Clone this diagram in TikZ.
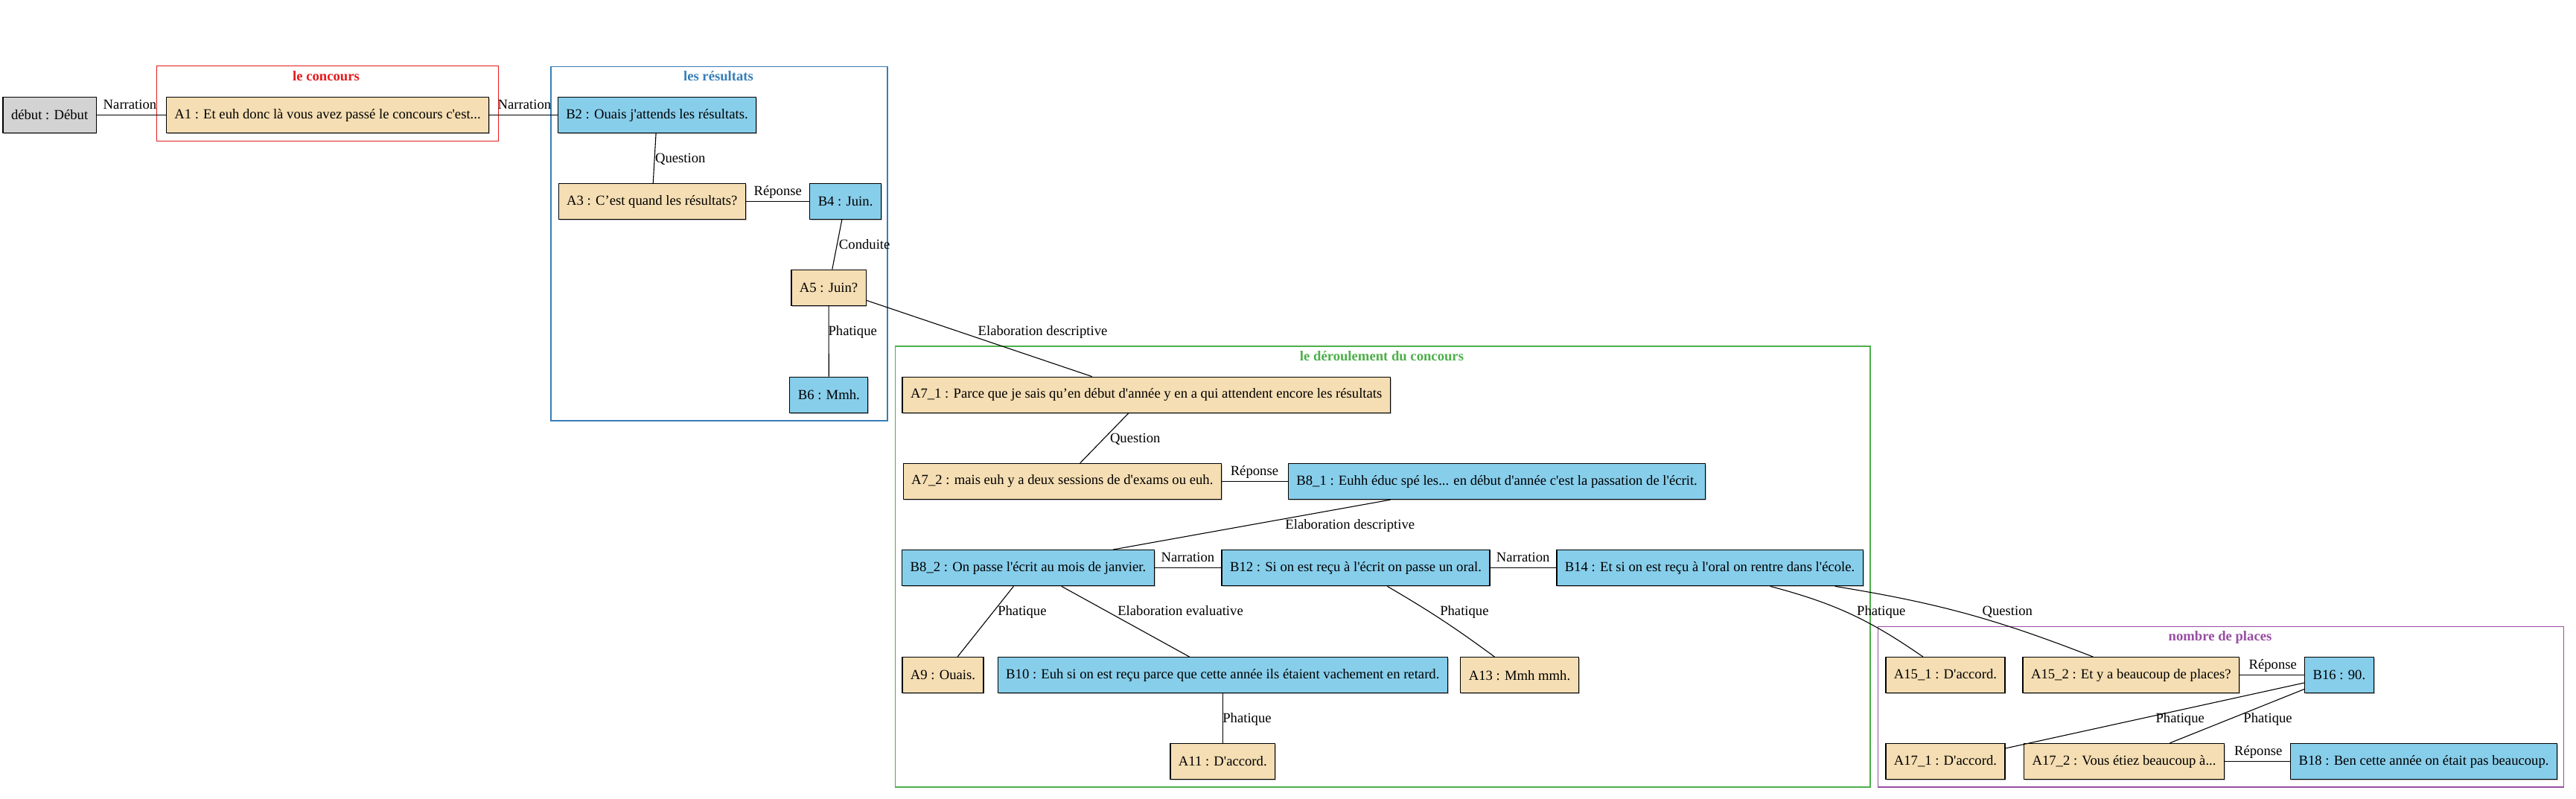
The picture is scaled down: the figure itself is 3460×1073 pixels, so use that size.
\documentclass[tikz,border=0pt]{standalone}
\usepackage{fontspec}
\setmainfont{Liberation Serif}[Ligatures=TeXOff]
\definecolor{wheat}{HTML}{F5DEB3}
\definecolor{skyblue}{HTML}{87CEEB}
\definecolor{lgray}{HTML}{D3D3D3}
\definecolor{cred}{HTML}{E41A1C}
\definecolor{cblue}{HTML}{377EB8}
\definecolor{cgreen}{HTML}{4DAF4A}
\definecolor{cpurple}{HTML}{984EA3}
\begin{document}
\begin{tikzpicture}[x=1pt,y=-1pt,font=\fontsize{18.67}{22}\selectfont]
		\tikzstyle{tour}=[draw,line width=1.3pt,shape=rectangle,minimum height=48pt,inner xsep=11pt,preaction={fill=gray,opacity=0.5,transform canvas={shift={(1.3pt,-1.3pt)}}}]
		\tikzstyle{tourA}=[tour,fill=wheat]
		\tikzstyle{tourB}=[tour,fill=skyblue]
		\tikzstyle{rel}=[anchor=base,inner sep=0pt]
		\tikzstyle{link}=[line width=1.1pt]
		\tikzstyle{grp}=[line width=1.2pt]
		\tikzstyle{grptitle}=[anchor=base,inner sep=0pt,font=\fontsize{18.67}{22}\selectfont\bfseries]

		\useasboundingbox (0,0) rectangle (3460,1073);

		\draw[grp,cred] (210.5,88.7) rectangle (669.2,189.3);
		\node[grptitle,cred](gconcours) at (438,108.5){le concours};
		\draw[grp,cblue] (740,89.3) rectangle (1192,565);
		\node[grptitle,cblue](gresultats) at (965,108){les résultats};
		\draw[grp,cgreen] (1202.6,465) rectangle (2512,1057);
		\node[grptitle,cgreen](gderoul) at (1856,484.5){le déroulement du concours};
		\draw[grp,cpurple] (2522.7,841.3) rectangle (3443.7,1057);
		\node[grptitle,cpurple](gplaces) at (2982,860){nombre de places};

		\node[tour,fill=lgray](debut) at (66.6,154.5){début : Début};
		\node[tourA](a1) at (440,154.5){A1 : Et euh donc là vous avez passé le concours c'est...};
		\node[tourB](b2) at (882.5,154.5){B2 : Ouais j'attends les résultats.};
		\node[tourA](a3) at (875.8,270.5){A3 : C’est quand les résultats?};
		\node[tourB](b4) at (1135.6,270.5){B4 : Juin.};
		\node[tourA](a5) at (1113,386.3){A5 : Juin?};
		\node[tourB](b6) at (1113.3,530.3){B6 : Mmh.};
		\node[tourA](a71) at (1539.7,530.3){A7\_1 : Parce que je sais qu’en début d'année y en a qui attendent encore les résultats};
		\node[tourA](a72) at (1426.8,646.5){A7\_2 : mais euh y a deux sessions de d'exams ou euh.};
		\node[tourB](b81) at (2010.6,646.5){B8\_1 : Euhh éduc spé les... en début d'année c'est la passation de l'écrit.};
		\node[tourB](b82) at (1381,762.7){B8\_2 : On passe l'écrit au mois de janvier.};
		\node[tourB](b12) at (1821,762.7){B12 : Si on est reçu à l'écrit on passe un oral.};
		\node[tourB](b14) at (2296.6,762.7){B14 : Et si on est reçu à l'oral on rentre dans l'école.};
		\node[tourA](a9) at (1266.5,906.7){A9 : Ouais.};
		\node[tourB](b10) at (1642.3,906.7){B10 : Euh si on est reçu parce que cette année ils étaient vachement en retard.};
		\node[tourA](a13) at (2041,906.7){A13 : Mmh mmh.};
		\node[tourA](a11) at (1642.3,1022.5){A11 : D'accord.};
		\node[tourA](a151) at (2612.9,906.7){A15\_1 : D'accord.};
		\node[tourA](a152) at (2862.3,906.7){A15\_2 : Et y a beaucoup de places?};
		\node[tourB](b16) at (3141.9,906.7){B16 : 90.};
		\node[tourA](a171) at (2612.9,1022.5){A17\_1 : D'accord.};
		\node[tourA](a172) at (2853,1022.5){A17\_2 : Vous étiez beaucoup à...};
		\node[tourB](b18) at (3255.5,1022.5){B18 : Ben cette année on était pas beaucoup.};

		\draw[link] (debut) -- (a1);
		\draw[link] (a1) -- (b2);
		\draw[link] (b2) -- (a3);
		\draw[link] (a3) -- (b4);
		\draw[link] (b4) -- (a5);
		\draw[link] (a5) -- (b6);
		\draw[link] (a5) -- (a71);
		\draw[link] (a71) -- (a72);
		\draw[link] (a72) -- (b81);
		\draw[link] ([xshift=-143pt]b81.south) -- ([xshift=114pt]b82.north);
		\draw[link] (b82) -- (b12);
		\draw[link] (b12) -- (b14);
		\draw[link] (b82) -- (a9);
		\draw[link] (b82) -- (b10);
		\draw[link] (b12) to[bend left=3] (a13);
		\draw[link] (b10) -- (a11);
		\draw[link] ([xshift=81pt]b14.south) to[bend left=10] ([xshift=-30pt]a151.north);
		\draw[link] ([xshift=168pt]b14.south) to[bend left=6] ([xshift=-51pt]a152.north);
		\draw[link] (a152) -- (b16);
		\draw[link] (b16) -- (a171);
		\draw[link] (b16) -- (a172);
		\draw[link] (a172) -- (b18);

		\node[rel](r1) at (174.5,146.3){Narration};
		\node[rel](r2) at (704.4,146.3){Narration};
		\node[rel](r3) at (913.8,218.7){Question};
		\node[rel](r4) at (1044.8,262.7){Réponse};
		\node[rel](r5) at (1161.2,334.3){Conduite};
		\node[rel](r6) at (1145.2,450){Phatique};
		\node[rel](r7) at (1400.5,450){Elaboration descriptive};
		\node[rel](r8) at (1524.7,594.3){Question};
		\node[rel](r9) at (1684.9,638.3){Réponse};
		\node[rel](r10) at (1813.3,710){Elaboration descriptive};
		\node[rel](r11) at (1595.4,754.3){Narration};
		\node[rel](r12) at (2045.7,754.3){Narration};
		\node[rel](r13) at (1372.9,826){Phatique};
		\node[rel](r14) at (1585.5,826){Elaboration evaluative};
		\node[rel](r15) at (1966.9,826){Phatique};
		\node[rel](r16) at (1675,970.3){Phatique};
		\node[rel](r17) at (2526.8,826){Phatique};
		\node[rel](r18) at (2696.2,826){Question};
		\node[rel](r19) at (3052.7,898.3){Réponse};
		\node[rel](r20) at (2928.2,970.3){Phatique};
		\node[rel](r21) at (3046,970.3){Phatique};
		\node[rel](r22) at (3033.2,1014.7){Réponse};
\end{tikzpicture}
\end{document}
